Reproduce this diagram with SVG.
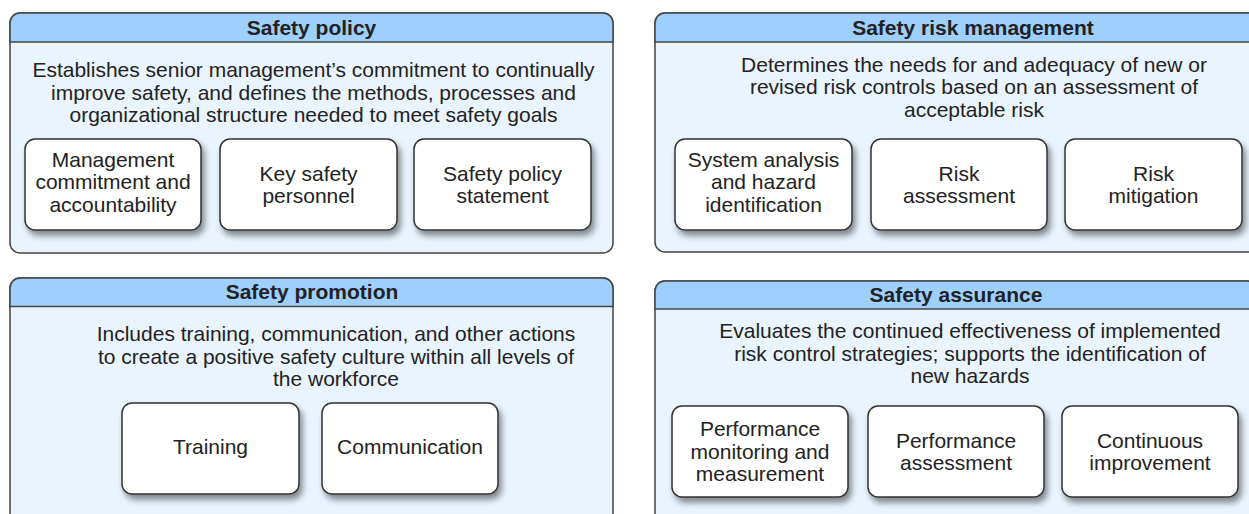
<svg xmlns="http://www.w3.org/2000/svg" width="1249" height="514" viewBox="0 0 1249 514">
<defs>
<filter id="sh" x="-10%" y="-10%" width="130%" height="140%">
<feGaussianBlur in="SourceAlpha" stdDeviation="3"/>
<feOffset dx="3" dy="5" result="b"/>
<feComponentTransfer><feFuncA type="linear" slope="0.45"/></feComponentTransfer>
<feMerge><feMergeNode/><feMergeNode in="SourceGraphic"/></feMerge>
</filter>
</defs>
<style>
.panel{fill:#EAF4FE;stroke:#444;stroke-width:1.5}
.head{fill:#9ECFFD;stroke:#444;stroke-width:1.5}
.box{fill:#fff;stroke:#333;stroke-width:1.5}
.ht{font-family:"Liberation Sans",Arial,sans-serif;font-size:21px;font-weight:bold;fill:#222;text-anchor:middle}
.dt{font-family:"Liberation Sans",Arial,sans-serif;font-size:21px;fill:#222;text-anchor:middle}
.bt{font-family:"Liberation Sans",Arial,sans-serif;font-size:21px;fill:#222;text-anchor:middle}
</style>
<rect width="1249" height="514" fill="#fff"/>

<g id="safety-policy">
<rect class="panel" x="10" y="13" width="603" height="240" rx="10"/>
<path class="head" d="M10,42 V23 A10,10 0 0 1 20,13 H603 A10,10 0 0 1 613,23 V42 Z"/>
<text class="ht" x="311.5" y="34.5">Safety policy</text>
<text class="dt" x="313.5" y="77">Establishes senior management’s commitment to continually</text>
<text class="dt" x="313.5" y="99.5">improve safety, and defines the methods, processes and</text>
<text class="dt" x="313.5" y="122">organizational structure needed to meet safety goals</text>
</g>
<g id="mgmt-commitment">
<rect class="box" filter="url(#sh)" x="25" y="139" width="176" height="91" rx="10"/>
<text class="bt" x="113" y="166.5">Management</text>
<text class="bt" x="113" y="189">commitment and</text>
<text class="bt" x="113" y="211.5">accountability</text>
</g>
<g id="key-personnel">
<rect class="box" filter="url(#sh)" x="220" y="139" width="177" height="91" rx="10"/>
<text class="bt" x="308.5" y="180.5">Key safety</text>
<text class="bt" x="308.5" y="203">personnel</text>
</g>
<g id="policy-statement">
<rect class="box" filter="url(#sh)" x="414" y="139" width="177" height="91" rx="10"/>
<text class="bt" x="502.5" y="180.5">Safety policy</text>
<text class="bt" x="502.5" y="203">statement</text>
</g>

<g id="safety-risk-management">
<rect class="panel" x="655" y="13" width="636" height="239" rx="10"/>
<path class="head" d="M655,42 V23 A10,10 0 0 1 665,13 H1281 A10,10 0 0 1 1291,23 V42 Z"/>
<text class="ht" x="973" y="34.5">Safety risk management</text>
<text class="dt" x="974" y="71.5">Determines the needs for and adequacy of new or</text>
<text class="dt" x="974" y="94">revised risk controls based on an assessment of</text>
<text class="dt" x="974" y="116.5">acceptable risk</text>
</g>
<g id="system-analysis">
<rect class="box" filter="url(#sh)" x="675" y="139" width="177" height="91" rx="10"/>
<text class="bt" x="763.5" y="166.5">System analysis</text>
<text class="bt" x="763.5" y="189">and hazard</text>
<text class="bt" x="763.5" y="211.5">identification</text>
</g>
<g id="risk-assessment">
<rect class="box" filter="url(#sh)" x="871" y="139" width="176" height="91" rx="10"/>
<text class="bt" x="959" y="180.5">Risk</text>
<text class="bt" x="959" y="203">assessment</text>
</g>
<g id="risk-mitigation">
<rect class="box" filter="url(#sh)" x="1065" y="139" width="177" height="91" rx="10"/>
<text class="bt" x="1153.5" y="180.5">Risk</text>
<text class="bt" x="1153.5" y="203">mitigation</text>
</g>

<g id="safety-promotion">
<rect class="panel" x="10" y="278" width="603" height="260" rx="10"/>
<path class="head" d="M10,306.5 V288 A10,10 0 0 1 20,278 H603 A10,10 0 0 1 613,288 V306.5 Z"/>
<text class="ht" x="312" y="298.5">Safety promotion</text>
<text class="dt" x="336" y="341">Includes training, communication, and other actions</text>
<text class="dt" x="336" y="363.5">to create a positive safety culture within all levels of</text>
<text class="dt" x="336" y="386">the workforce</text>
</g>
<g id="training">
<rect class="box" filter="url(#sh)" x="122" y="403" width="177" height="91" rx="10"/>
<text class="bt" x="210.5" y="453.5">Training</text>
</g>
<g id="communication">
<rect class="box" filter="url(#sh)" x="322" y="403" width="176" height="91" rx="10"/>
<text class="bt" x="410" y="453.5">Communication</text>
</g>

<g id="safety-assurance">
<rect class="panel" x="655" y="281" width="602" height="260" rx="10"/>
<path class="head" d="M655,309 V291 A10,10 0 0 1 665,281 H1247 A10,10 0 0 1 1257,291 V309 Z"/>
<text class="ht" x="956" y="301.5">Safety assurance</text>
<text class="dt" x="970" y="338">Evaluates the continued effectiveness of implemented</text>
<text class="dt" x="970" y="360.5">risk control strategies; supports the identification of</text>
<text class="dt" x="970" y="383">new hazards</text>
</g>
<g id="perf-monitoring">
<rect class="box" filter="url(#sh)" x="672" y="406" width="176" height="91" rx="10"/>
<text class="bt" x="760" y="436">Performance</text>
<text class="bt" x="760" y="458.5">monitoring and</text>
<text class="bt" x="760" y="481">measurement</text>
</g>
<g id="perf-assessment">
<rect class="box" filter="url(#sh)" x="868" y="406" width="176" height="91" rx="10"/>
<text class="bt" x="956" y="447.5">Performance</text>
<text class="bt" x="956" y="470">assessment</text>
</g>
<g id="continuous-improvement">
<rect class="box" filter="url(#sh)" x="1062" y="406" width="176" height="91" rx="10"/>
<text class="bt" x="1150" y="447.5">Continuous</text>
<text class="bt" x="1150" y="470">improvement</text>
</g>

<g id="connectors"/>
</svg>
